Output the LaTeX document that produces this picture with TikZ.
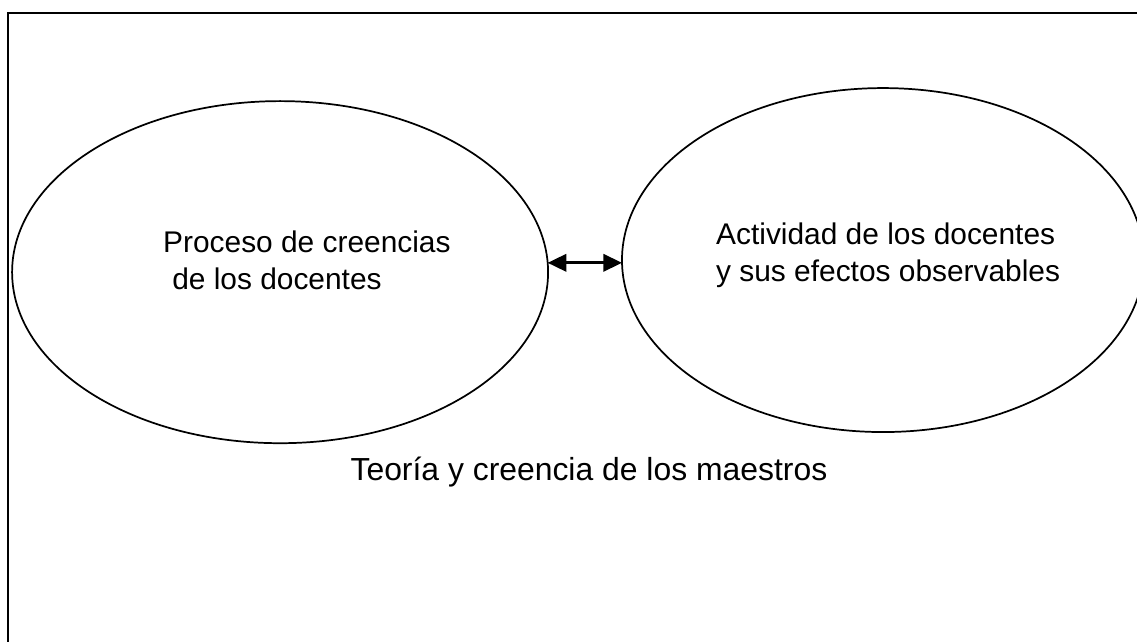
\documentclass[tikz,border=0pt]{standalone}
\usepackage{fontspec}
\setmainfont{Liberation Sans}
\usetikzlibrary{shapes.geometric,arrows.meta}

\begin{document}
\begin{tikzpicture}
	\tikzstyle{bubble}=[draw,shape=ellipse,line width=1.3pt,inner sep=0pt,outer sep=0pt]
	\tikzstyle{txt}=[anchor=base west,align=left,inner sep=0pt,font=\fontsize{22.5}{28}\selectfont]
	
	\useasboundingbox (0,0) rectangle (30.08,16.96);
	\clip (0,0) rectangle (30.08,16.96);
	
	\draw[line width=1.5pt] (0.21,-1) -- (0.21,16.61) -- (31,16.61);
	
	\node[bubble,minimum width=14.18cm,minimum height=9.05cm](creencias) at (7.41,9.76){};
	\node[bubble,minimum width=13.81cm,minimum height=9.10cm](actividad) at (23.36,10.08){};
	
	\node[txt](tcreencias) at (4.31,9.30){Proceso de creencias\\\hspace{0.24cm}de los docentes};
	\node[txt](tactividad) at (18.94,9.50){Actividad de los docentes\\y sus efectos observables};
	
	\draw[{Triangle[length=14pt,width=13pt]}-{Triangle[length=14pt,width=13pt]},line width=2pt] (creencias.2) -- (creencias.2 -| actividad.west);
	
	\node[anchor=base,inner sep=0pt,font=\fontsize{24}{28}\selectfont](titulo) at (15.58,4.26){Teoría y creencia de los maestros};
	
\end{tikzpicture}
\end{document}
